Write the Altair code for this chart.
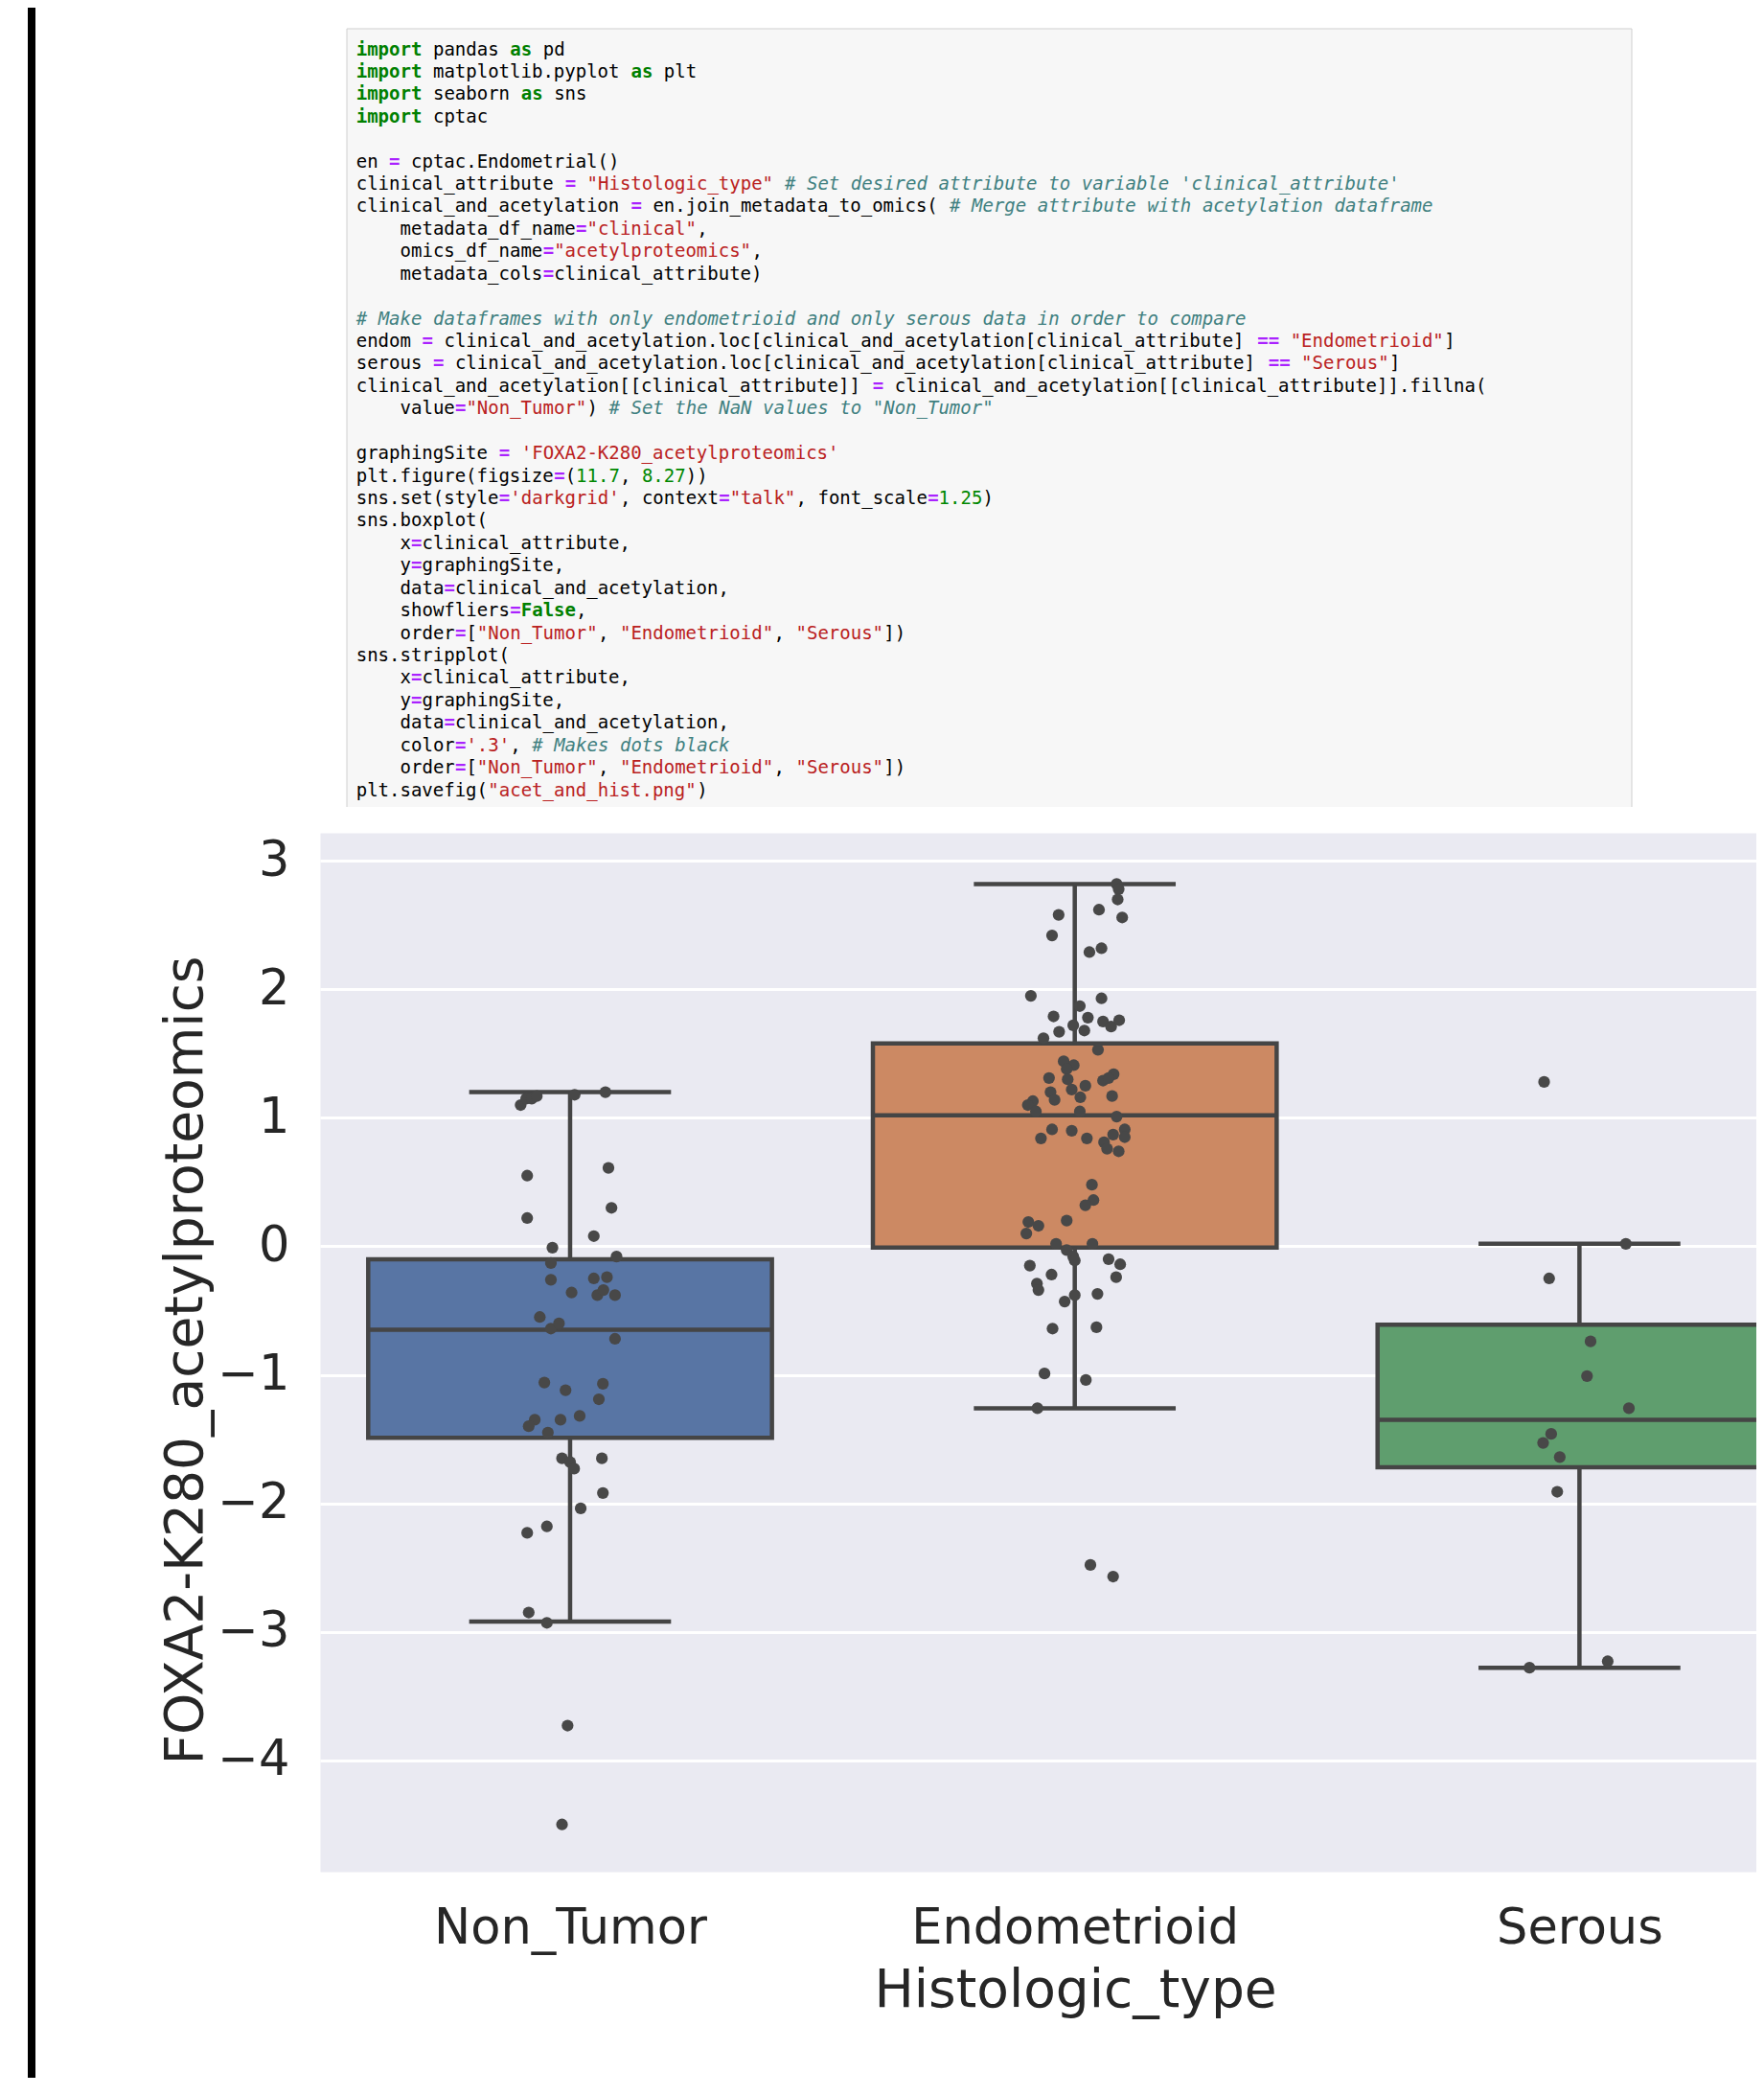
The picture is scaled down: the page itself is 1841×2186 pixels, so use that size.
import json
import re

import altair as alt
import pandas as pd

# ---------------- chart values ----------------
CATEGORIES = ["Non_Tumor", "Endometrioid", "Serous"]
BOX_COLORS = ["#5875A4", "#CC8963", "#5F9E6E"]
Q1 = [-1.49, -0.01, -1.72]
MEDIAN = [-0.65, 1.02, -1.35]
Q3 = [-0.10, 1.58, -0.61]
WHISKER_LOW = [-2.92, -1.26, -3.28]
WHISKER_HIGH = [1.20, 2.82, 0.02]
Y_TICKS = [-4, -3, -2, -1, 0, 1, 2, 3]

NT_VALUES = [1.10, 1.15, 1.15, 1.17, 1.18, 1.20, 0.55, 0.61, 0.22, 0.30, 0.08, -0.01,
             -0.08, -0.13, -0.26, -0.25, -0.24, -0.36, -0.38, -0.34, -0.38, -0.55, -0.64,
             -0.60, -0.72, -1.06, -1.12, -1.07, -1.19, -1.35, -1.40, -1.35, -1.32, -1.45,
             -1.65, -1.68, -1.73, -1.65, -1.92, -2.04, -2.18, -2.23, -2.85, -2.93, -3.73, -4.50]
NT_JITTER = [-0.098, -0.087, -0.076, -0.066, 0.009, 0.070, -0.085, 0.076, -0.085, 0.082, 0.047, -0.035,
             0.092, -0.038, -0.038, 0.047, 0.073, 0.003, 0.054, 0.066, 0.089, -0.060, -0.038,
             -0.022, 0.089, -0.051, -0.009, 0.065, 0.057, -0.070, -0.082, -0.019, 0.019, -0.044,
             -0.016, 0.000, 0.008, 0.063, 0.065, 0.021, -0.046, -0.085, -0.082, -0.046, -0.005, -0.016]

EN_VALUES = [2.82, 2.78, 2.70, 2.58, 2.62, 2.56, 2.42, 2.29, 2.32, 1.95, 1.93, 1.87, 1.79, 1.78,
             1.75, 1.71, 1.76, 1.72, 1.67, 1.68, 1.62, 1.53, 1.44, 1.41, 1.38, 1.31, 1.30, 1.25,
             1.29, 1.34, 1.31, 1.20, 1.22, 1.14, 1.16, 1.17, 1.13, 1.10, 1.05, 1.05, 1.01, 0.91,
             0.90, 0.84, 0.84, 0.91, 0.87, 0.81, 0.85, 0.76, 0.74, 0.48, 0.36, 0.32, 0.20, 0.19,
             0.16, 0.10, 0.02, 0.02, -0.03, -0.08, -0.11, -0.10, -0.14, -0.15, -0.22, -0.29,
             -0.34, -0.24, -0.38, -0.37, -0.43, -0.64, -0.63, -0.99, -1.04, -1.26, -2.48, -2.57]
EN_JITTER = [0.083, 0.087, 0.085, -0.032, 0.048, 0.094, -0.045, 0.029, 0.053, -0.087, 0.053, 0.010,
             -0.042, 0.026, 0.056, 0.072, 0.088, -0.003, -0.031, 0.019, -0.062, 0.046, -0.022,
             -0.002, -0.016, -0.051, -0.014, 0.021, 0.056, 0.077, 0.067, -0.048, -0.006, -0.040,
             0.011, 0.074, -0.083, -0.093, -0.077, 0.010, 0.083, -0.045, -0.006, -0.067, 0.024,
             0.099, 0.076, 0.058, 0.099, 0.064, 0.087, 0.034, 0.037, 0.021, -0.016, -0.092,
             -0.072, -0.096, -0.037, 0.035, -0.016, -0.003, 0.000, 0.067, 0.090, -0.089, -0.046,
             -0.075, -0.072, 0.082, 0.000, 0.045, -0.020, -0.044, 0.043, -0.060, 0.022, -0.074,
             0.031, 0.076]

SE_VALUES = [1.28, 0.02, -0.25, -0.74, -1.01, -1.26, -1.46, -1.53, -1.64, -1.91, -3.23, -3.28]
SE_JITTER = [-0.070, 0.092, -0.060, 0.022, 0.015, 0.098, -0.056, -0.072, -0.039, -0.044, 0.056, -0.099]

CODE_LINES = [
    'import pandas as pd',
    'import matplotlib.pyplot as plt',
    'import seaborn as sns',
    'import cptac',
    '',
    'en = cptac.Endometrial()',
    'clinical_attribute = "Histologic_type" # Set desired attribute to variable \'clinical_attribute\'',
    'clinical_and_acetylation = en.join_metadata_to_omics( # Merge attribute with acetylation dataframe',
    '    metadata_df_name="clinical",',
    '    omics_df_name="acetylproteomics",',
    '    metadata_cols=clinical_attribute)',
    '',
    '# Make dataframes with only endometrioid and only serous data in order to compare',
    'endom = clinical_and_acetylation.loc[clinical_and_acetylation[clinical_attribute] == "Endometrioid"]',
    'serous = clinical_and_acetylation.loc[clinical_and_acetylation[clinical_attribute] == "Serous"]',
    'clinical_and_acetylation[[clinical_attribute]] = clinical_and_acetylation[[clinical_attribute]].fillna(',
    '    value="Non_Tumor") # Set the NaN values to "Non_Tumor"',
    '',
    "graphingSite = 'FOXA2-K280_acetylproteomics'",
    'plt.figure(figsize=(11.7, 8.27))',
    'sns.set(style=\'darkgrid\', context="talk", font_scale=1.25)',
    'sns.boxplot(',
    '    x=clinical_attribute,',
    '    y=graphingSite,',
    '    data=clinical_and_acetylation,',
    '    showfliers=False,',
    '    order=["Non_Tumor", "Endometrioid", "Serous"])',
    'sns.stripplot(',
    '    x=clinical_attribute,',
    '    y=graphingSite,',
    '    data=clinical_and_acetylation,',
    "    color='.3', # Makes dots black",
    '    order=["Non_Tumor", "Endometrioid", "Serous"])',
    'plt.savefig("acet_and_hist.png")',
]

# ---------------- tables ----------------
box_df = pd.DataFrame({
    "cat": CATEGORIES,
    "pos": list(range(len(CATEGORIES))),
    "q1": Q1, "med": MEDIAN, "q3": Q3, "lo": WHISKER_LOW, "hi": WHISKER_HIGH,
    "color": BOX_COLORS,
})
box_df["left"] = box_df["pos"] - 0.4
box_df["right"] = box_df["pos"] + 0.4
box_df["capl"] = box_df["pos"] - 0.2
box_df["capr"] = box_df["pos"] + 0.2

pts = []
for ci, (vals, jit) in enumerate([(NT_VALUES, NT_JITTER), (EN_VALUES, EN_JITTER), (SE_VALUES, SE_JITTER)]):
    for v, j in zip(vals, jit):
        pts.append({"cat": CATEGORIES[ci], "xpos": ci + j, "value": v})
pts_df = pd.DataFrame(pts)

TOKEN_RE = re.compile(
    r'(?P<str>"[^"]*"|\'[^\']*\')|(?P<com>#.*$)|(?P<kw>\b(?:import|as|False)\b)'
    r'|(?P<num>(?<![\w.])\d+(?:\.\d+)?)|(?P<op>==|=)'
)
STYLE = {
    "str": ("#BA2121", "normal"),
    "com": ("#408080", "italic"),
    "kw": ("#008000", "bold"),
    "num": ("#008800", "normal"),
    "op": ("#AA22FF", "bold"),
    None: ("#000000", "normal"),
}
rows = []
for li, line in enumerate(CODE_LINES):
    cls = [None] * len(line)
    for m in TOKEN_RE.finditer(line):
        for k in range(m.start(), m.end()):
            cls[k] = m.lastgroup
    i = 0
    while i < len(line):
        if line[i] == " ":
            i += 1
            continue
        j = i
        while j < len(line) and line[j] != " " and cls[j] == cls[i]:
            j += 1
        color, kind = STYLE[cls[i]]
        rows.append({"line": li, "col": i, "tok": line[i:j], "color": color, "kind": kind})
        i = j
code_df = pd.DataFrame(rows)

# ---------------- box plot ----------------
TEXT = "#262626"
EDGE = "#454545"
LW = 4.5
X_SCALE = alt.Scale(domain=[-0.4955, 2.3505], nice=False, zero=False)
Y_SCALE = alt.Scale(domain=[-4.8675, 3.2186], nice=False, zero=False)
X_AXIS = alt.Axis(
    values=[0, 1, 2], labelExpr=json.dumps(CATEGORIES) + "[datum.value]",
    grid=False, domain=False, ticks=False, tickSize=0, labelFlush=False, labelOverlap=False,
    labelLimit=0,
    labelFont="DejaVu Sans", labelFontSize=51, labelColor=TEXT, labelPadding=74,
    labelBaseline="alphabetic",
    title="Histologic_type", titleFont="DejaVu Sans", titleFontSize=55, titleFontWeight="normal",
    titleColor=TEXT, titleX=788, titleY=140, titleAlign="center", titleBaseline="alphabetic",
    titleLimit=0,
)
Y_AXIS = alt.Axis(
    values=Y_TICKS, grid=True, gridColor="white", gridWidth=3, domain=False, ticks=False,
    tickSize=0, labelOverlap=False, labelLimit=0,
    labelFont="DejaVu Sans", labelFontSize=51, labelColor=TEXT, labelPadding=32,
    labelBaseline="middle",
    title="FOXA2-K280_acetylproteomics", titleFont="DejaVu Sans", titleFontSize=55,
    titleFontWeight="normal", titleColor=TEXT, titleAngle=270, titleX=-124, titleY=550,
    titleAlign="center", titleBaseline="alphabetic", titleLimit=0,
)


def X(field):
    return alt.X(field, type="quantitative", scale=X_SCALE, axis=X_AXIS)


def Y(field):
    return alt.Y(field, type="quantitative", scale=Y_SCALE, axis=Y_AXIS)


base = alt.Chart(box_df)
rects = base.mark_rect(stroke=EDGE, strokeWidth=LW, clip=True).encode(
    x=X("left"), x2="right", y=Y("q1"), y2="q3", color=alt.Color("color:N", scale=None))
wh_up = base.mark_rule(color=EDGE, strokeWidth=LW, clip=True).encode(x=X("pos"), y=Y("q3"), y2="hi")
wh_lo = base.mark_rule(color=EDGE, strokeWidth=LW, clip=True).encode(x=X("pos"), y=Y("lo"), y2="q1")
cap_up = base.mark_rule(color=EDGE, strokeWidth=LW, clip=True).encode(x=X("capl"), x2="capr", y=Y("hi"))
cap_lo = base.mark_rule(color=EDGE, strokeWidth=LW, clip=True).encode(x=X("capl"), x2="capr", y=Y("lo"))
med = base.mark_rule(color=EDGE, strokeWidth=LW, clip=True).encode(x=X("left"), x2="right", y=Y("med"))
dots = alt.Chart(pts_df).mark_circle(size=150, color="#484848", opacity=1, clip=True).encode(
    x=X("xpos"), y=Y("value"))
boxes = alt.layer(rects, wh_up, wh_lo, cap_up, cap_lo, med, dots)

# ---------------- code cell ----------------
one = pd.DataFrame({"a": [0]})
panel = alt.Chart(one).mark_rect(color="#F7F7F7").encode(
    x=alt.value(28), x2=alt.value(1369), y=alt.value(-839), y2=alt.value(-27))
b_left = alt.Chart(one).mark_rule(color="#CFCFCF", strokeWidth=1).encode(
    x=alt.value(28), y=alt.value(-839), y2=alt.value(-27))
b_right = alt.Chart(one).mark_rule(color="#CFCFCF", strokeWidth=1).encode(
    x=alt.value(1369), y=alt.value(-839), y2=alt.value(-27))
b_top = alt.Chart(one).mark_rule(color="#CFCFCF", strokeWidth=1).encode(
    x=alt.value(28), x2=alt.value(1369), y=alt.value(-839))
bar = alt.Chart(one).mark_rect(color="#000000").encode(
    x=alt.value(-305), x2=alt.value(-297), y=alt.value(-880), y2=alt.value(1400))
deco = alt.layer(panel, b_left, b_right, b_top, bar)

CX = alt.X("col:Q", scale=alt.Scale(domain=[0, 100], range=[37.7, 1184.7], nice=False, zero=False), axis=None)
CY = alt.Y("line:Q", scale=alt.Scale(domain=[0, 33], range=[-811.5, -38.5], nice=False, zero=False), axis=None)


def code_layer(kind, **kw):
    return alt.Chart(code_df[code_df["kind"] == kind]).mark_text(
        font="DejaVu Sans Mono", fontSize=19, align="left", baseline="alphabetic", **kw
    ).encode(x=CX, y=CY, text="tok:N", color=alt.Color("color:N", scale=None))


code = alt.layer(
    code_layer("normal"),
    code_layer("bold", fontWeight="bold"),
    code_layer("italic", fontStyle="italic"),
)

chart = alt.layer(deco, boxes, code).resolve_scale(
    x="independent", y="independent", color="independent"
).properties(
    width=1499, height=1084,
    autosize=alt.AutoSizeParams(type="none"),
    padding={"left": 326, "top": 861, "right": 0, "bottom": 215},
).configure_view(fill="#EAEAF2", stroke="transparent")

chart.save("out.html", embed_options={"renderer": "svg", "actions": False})
